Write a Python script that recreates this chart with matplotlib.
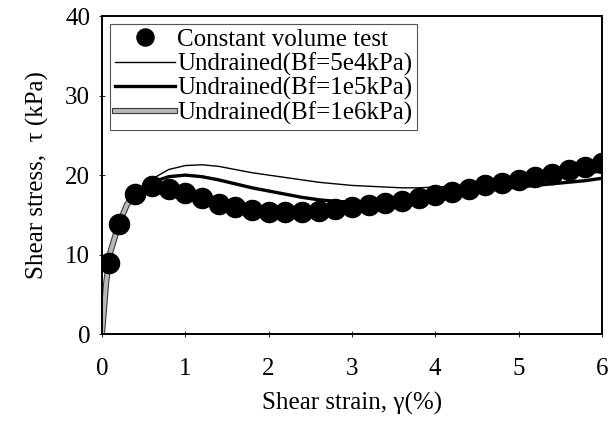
import numpy as np
import matplotlib.pyplot as plt
import matplotlib.patheffects as pe

plt.rcParams['font.family'] = ['Liberation Serif', 'DejaVu Serif']

# Constant volume test (measured points)
test_strain = [0.08, 0.2, 0.4, 0.6, 0.8, 1.0, 1.2, 1.4, 1.6, 1.8, 2.0, 2.2, 2.4, 2.6, 2.8,
               3.0, 3.2, 3.4, 3.6, 3.8, 4.0, 4.2, 4.4, 4.6, 4.8, 5.0, 5.2, 5.4, 5.6, 5.8, 6.0]
test_stress = [9.0, 13.8, 17.6, 18.6, 18.2, 17.8, 17.1, 16.4, 16.0, 15.6, 15.4, 15.4, 15.4, 15.5, 15.7,
               16.0, 16.2, 16.5, 16.8, 17.1, 17.5, 17.9, 18.3, 18.7, 19.0, 19.4, 19.8, 20.2, 20.6, 21.0, 21.5]

# Undrained simulations
sim_strain = [0, 0.05, 0.1, 0.2, 0.3, 0.4, 0.5, 0.6, 0.8, 1.0, 1.2, 1.4, 1.6, 1.8, 2.0, 2.2, 2.4,
              2.6, 2.8, 3.0, 3.2, 3.4, 3.6, 3.8, 4.0, 4.2, 4.4, 4.6, 4.8, 5.0, 5.2, 5.4, 5.6, 5.8, 6.0]
bf_5e4 = [0, 6.5, 10.3, 13.8, 16.3, 17.7, 18.7, 19.5, 20.7, 21.2, 21.3, 21.1, 20.7, 20.3, 20.0, 19.7, 19.4,
          19.1, 18.9, 18.7, 18.6, 18.5, 18.4, 18.4, 18.5, 18.6, 18.7, 18.8, 19.0, 19.2, 19.4, 19.6, 19.8, 20.1, 20.4]
bf_1e5 = [0, 6.5, 10.3, 13.8, 16.3, 17.7, 18.5, 19.1, 19.8, 20.0, 19.8, 19.4, 18.9, 18.4, 18.0, 17.6, 17.2,
          16.9, 16.7, 16.6, 16.6, 16.7, 16.9, 17.1, 17.4, 17.6, 17.8, 18.0, 18.3, 18.5, 18.7, 18.9, 19.1, 19.3, 19.6]
bf_1e6 = [0, 6.5, 10.3, 13.8, 16.3, 17.7, 18.4, 18.7, 18.4, 17.9, 17.2, 16.5, 16.0, 15.7, 15.5, 15.5, 15.5,
          15.6, 15.8, 16.0, 16.3, 16.6, 16.9, 17.2, 17.6, 18.0, 18.3, 18.7, 19.0, 19.4, 19.8, 20.1, 20.4, 20.6, 20.8]

fs = 18

fig = plt.figure(figsize=(6.16, 4.25), dpi=100)
ax = fig.add_axes([0.1656, 0.214, 0.8114, 0.748])

ax.plot(sim_strain, bf_5e4, color='black', lw=1.0, label='Undrained(Bf=5e4kPa)', zorder=2)
ax.plot(sim_strain, bf_1e5, color='black', lw=2.4, label='Undrained(Bf=1e5kPa)', zorder=2)
ax.plot(sim_strain, bf_1e6, color='#b8b8b8', lw=2.8, label='Undrained(Bf=1e6kPa)', zorder=2,
        path_effects=[pe.Stroke(linewidth=4.4, foreground='#3a3a3a'), pe.Normal()])
ax.plot(test_strain, test_stress, 'o', color='black', ms=14.5, label='Constant volume test', zorder=3)

ax.set_xlim(0, 6)
ax.set_ylim(0, 40)
ax.set_xticks(np.arange(0, 7, 1))
ax.set_yticks(np.arange(0, 41, 10))
ax.tick_params(direction='inout', length=5, width=0.6, labelsize=fs, pad=6)
ax.tick_params(axis='x', pad=15)
for s in ax.spines.values():
    s.set_linewidth(1.4)

ax.set_xlabel('Shear strain, γ(%)', fontsize=fs, labelpad=8)
ax.set_ylabel('Shear stress,  τ (kPa)', fontsize=fs, labelpad=12)

h, l = ax.get_legend_handles_labels()
order = [3, 0, 1, 2]
leg = ax.legend([h[i] for i in order], [l[i] for i in order], loc='upper left', fontsize=fs,
                frameon=True, fancybox=False, edgecolor='#555555', framealpha=1,
                handlelength=2.4, handletextpad=0.1, labelspacing=0.05, borderpad=0.2,
                borderaxespad=0.3, markerscale=0.85)
leg.get_frame().set_linewidth(0.8)

fig.savefig('out.png', dpi=100)
